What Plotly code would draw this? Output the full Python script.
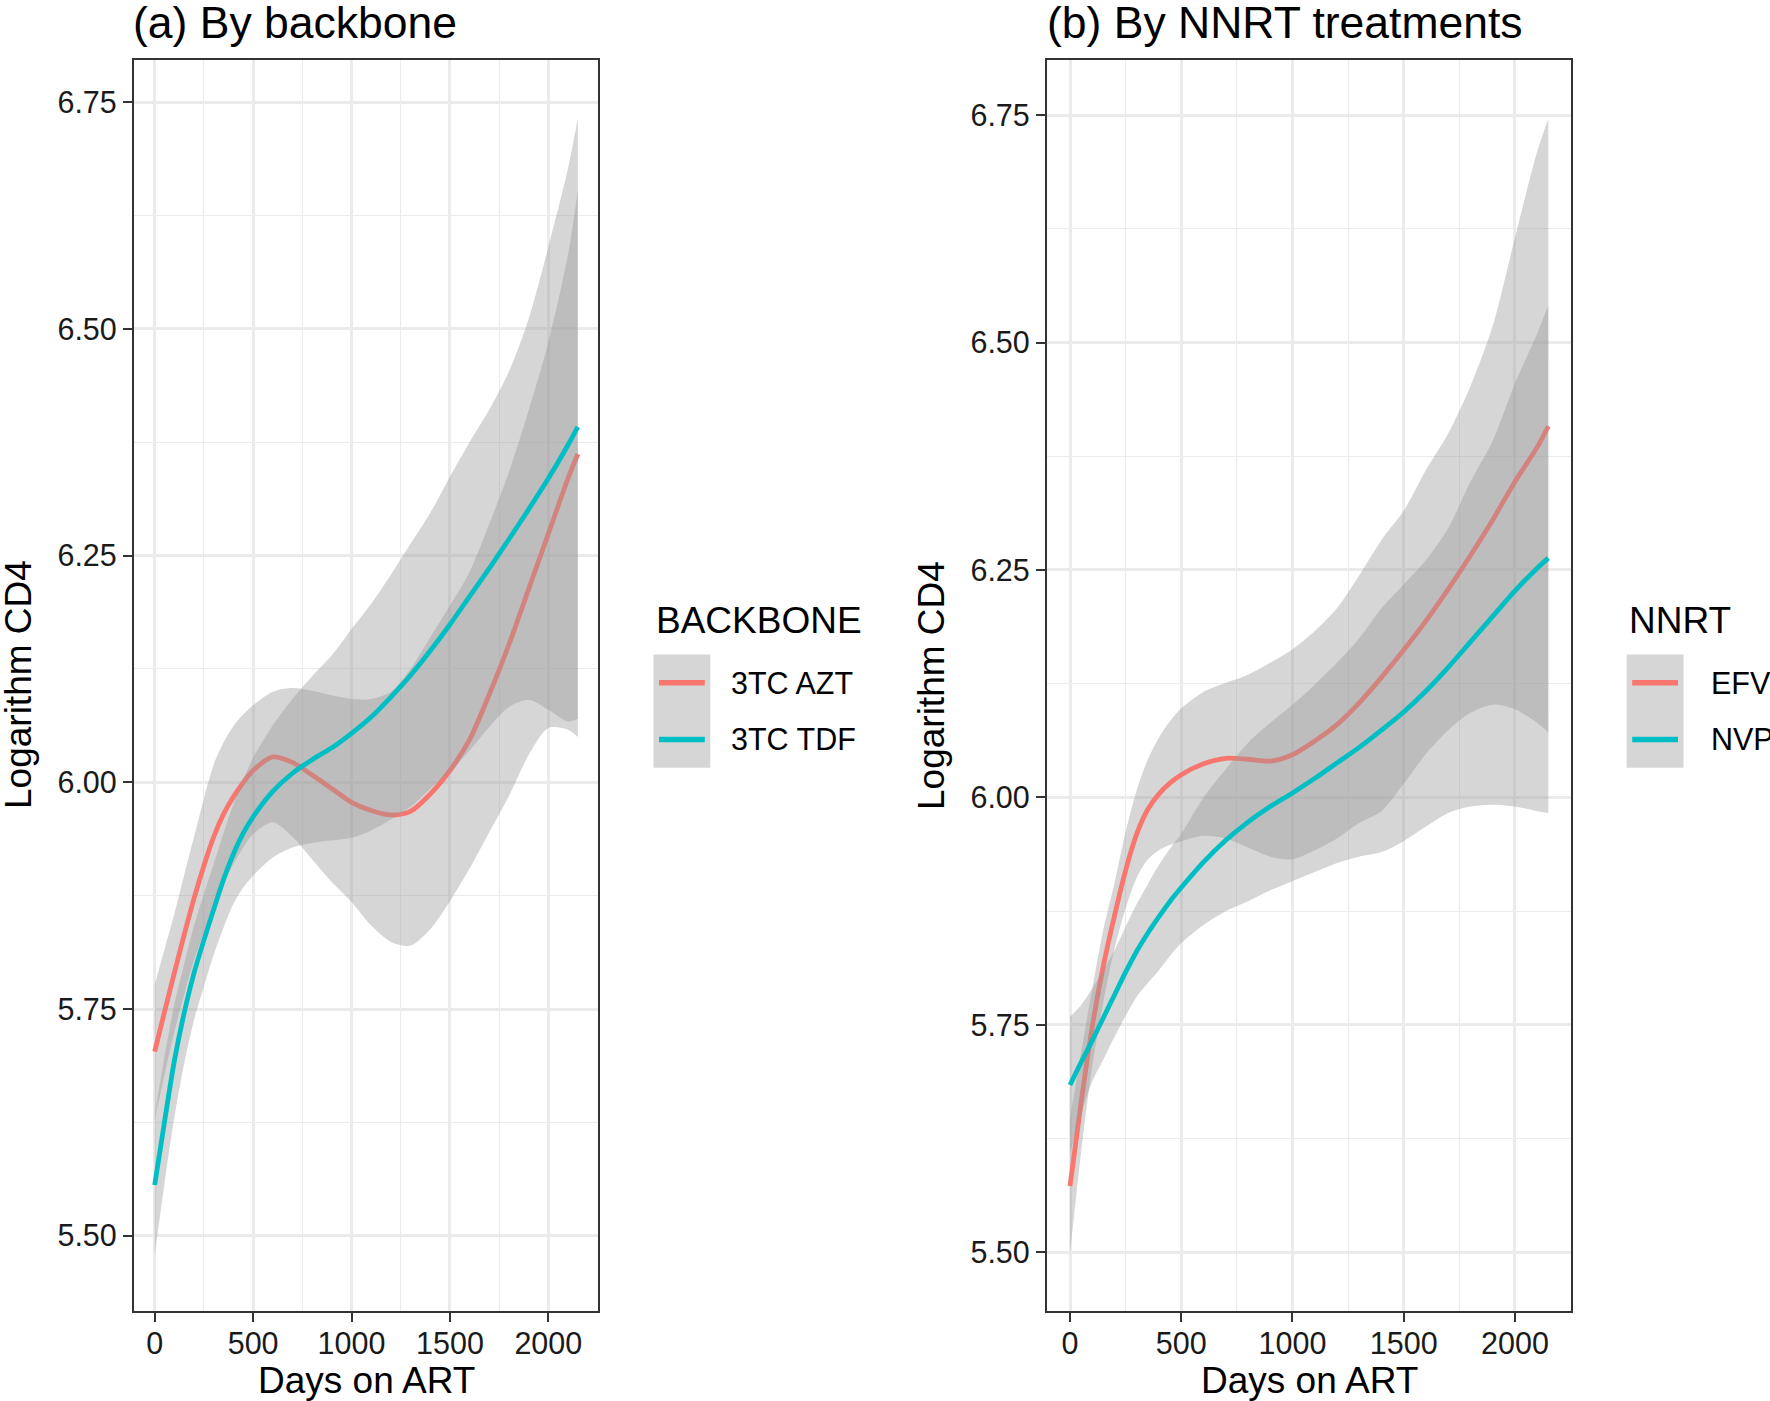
import plotly.graph_objects as go

W, H = 1770, 1401

# ---------------- data ----------------
days = [0, 50, 100, 150, 200, 250, 300, 350, 400, 450, 500, 600, 700, 800, 900, 1000,
        1100, 1200, 1300, 1400, 1500, 1600, 1700, 1800, 1900, 2000, 2100, 2150]

# Panel (a) BACKBONE
azt_fit = [5.703, 5.747, 5.790, 5.832, 5.872, 5.908, 5.940, 5.965, 5.984, 6.000, 6.013, 6.028, 6.022, 6.008, 5.993, 5.978,
           5.969, 5.964, 5.968, 5.987, 6.013, 6.047, 6.097, 6.152, 6.213, 6.274, 6.335, 6.362]
azt_upper = [5.777, 5.816, 5.855, 5.898, 5.940, 5.982, 6.020, 6.044, 6.062, 6.075, 6.085, 6.100, 6.104, 6.101, 6.096, 6.092,
             6.092, 6.100, 6.125, 6.160, 6.195, 6.232, 6.285, 6.342, 6.410, 6.485, 6.582, 6.653]
azt_lower = [5.629, 5.677, 5.725, 5.766, 5.804, 5.834, 5.865, 5.890, 5.910, 5.928, 5.943, 5.956, 5.940, 5.915, 5.890, 5.868,
             5.842, 5.824, 5.820, 5.838, 5.869, 5.905, 5.945, 5.985, 6.030, 6.060, 6.058, 6.050]
tdf_fit = [5.556, 5.626, 5.693, 5.746, 5.790, 5.826, 5.860, 5.893, 5.921, 5.944, 5.962, 5.990, 6.010, 6.025, 6.038, 6.054,
           6.072, 6.094, 6.118, 6.145, 6.174, 6.205, 6.236, 6.268, 6.301, 6.335, 6.372, 6.392]
tdf_upper = [5.633, 5.698, 5.755, 5.800, 5.842, 5.877, 5.910, 5.944, 5.976, 6.003, 6.027, 6.063, 6.092, 6.117, 6.140, 6.169,
             6.197, 6.229, 6.263, 6.297, 6.337, 6.375, 6.411, 6.453, 6.511, 6.590, 6.677, 6.732]
tdf_lower = [5.479, 5.558, 5.631, 5.690, 5.738, 5.775, 5.810, 5.840, 5.866, 5.884, 5.897, 5.917, 5.928, 5.933, 5.936, 5.939,
             5.947, 5.959, 5.973, 5.993, 6.011, 6.035, 6.061, 6.083, 6.091, 6.080, 6.067, 6.070]

# Panel (b) NNRT
efv_fit = [5.573, 5.665, 5.748, 5.815, 5.870, 5.920, 5.960, 5.987, 6.004, 6.016, 6.025, 6.037, 6.043, 6.042, 6.040, 6.047,
           6.062, 6.080, 6.104, 6.132, 6.162, 6.194, 6.229, 6.266, 6.305, 6.347, 6.385, 6.408]
efv_upper = [5.647, 5.720, 5.790, 5.855, 5.906, 5.962, 6.008, 6.042, 6.066, 6.084, 6.098, 6.116, 6.126, 6.135, 6.148, 6.163,
             6.183, 6.208, 6.244, 6.283, 6.315, 6.360, 6.400, 6.452, 6.518, 6.615, 6.710, 6.746]
efv_lower = [5.499, 5.610, 5.705, 5.775, 5.834, 5.878, 5.912, 5.932, 5.942, 5.948, 5.952, 5.958, 5.955, 5.945, 5.935, 5.932,
             5.942, 5.955, 5.972, 5.985, 6.015, 6.048, 6.074, 6.093, 6.102, 6.097, 6.082, 6.071]
nvp_fit = [5.684, 5.709, 5.733, 5.758, 5.783, 5.808, 5.831, 5.851, 5.869, 5.886, 5.901, 5.929, 5.953, 5.973, 5.990, 6.005,
           6.021, 6.038, 6.055, 6.074, 6.094, 6.117, 6.143, 6.171, 6.199, 6.227, 6.252, 6.263]
nvp_upper = [5.759, 5.772, 5.790, 5.810, 5.832, 5.858, 5.883, 5.905, 5.926, 5.944, 5.960, 6.000, 6.031, 6.060, 6.082, 6.102,
             6.124, 6.148, 6.175, 6.208, 6.234, 6.261, 6.296, 6.347, 6.392, 6.455, 6.510, 6.541]
nvp_lower = [5.609, 5.652, 5.688, 5.712, 5.737, 5.760, 5.781, 5.796, 5.810, 5.826, 5.840, 5.860, 5.875, 5.886, 5.898, 5.908,
             5.918, 5.928, 5.935, 5.940, 5.952, 5.968, 5.983, 5.990, 5.992, 5.990, 5.985, 5.983]

x_ticks = [0, 500, 1000, 1500, 2000]
y_ticks = [5.50, 5.75, 6.00, 6.25, 6.50, 6.75]
y_tick_labels = ["5.50", "5.75", "6.00", "6.25", "6.50", "6.75"]

legend_a_title = "BACKBONE"
legend_a_labels = ["3TC AZT", "3TC TDF"]
legend_b_title = "NNRT"
legend_b_labels = ["EFV", "NVP"]
titles = ["(a) By backbone", "(b) By NNRT treatments"]
x_title = "Days on ART"
y_title = "Logarithm CD4"

# ---------------- style ----------------
RED = "#F8766D"
CYAN = "#00BFC4"
RIBBON = "rgba(153,153,153,0.4)"
FONT = "Liberation Sans, Arial, sans-serif"
TICK_FS = 30.5
TITLE_FS = 37
MAIN_FS = 44.5


def px_x(p):
    return p / W


def px_y(p):
    return 1 - p / H


fig = go.Figure()


def add_group(xa, ya, fit, lo, hi, color):
    fig.add_trace(go.Scatter(x=days, y=lo, mode="lines", line=dict(width=0, shape="spline", smoothing=0.8),
                             xaxis=xa, yaxis=ya, showlegend=False, hoverinfo="skip"))
    fig.add_trace(go.Scatter(x=days, y=hi, mode="lines", line=dict(width=0, shape="spline", smoothing=0.8),
                             fill="tonexty", fillcolor=RIBBON,
                             xaxis=xa, yaxis=ya, showlegend=False, hoverinfo="skip"))
    fig.add_trace(go.Scatter(x=days, y=fit, mode="lines",
                             line=dict(color=color, width=4.8, shape="spline", smoothing=0.8),
                             xaxis=xa, yaxis=ya, showlegend=False, hoverinfo="skip"))


add_group("x", "y", azt_fit, azt_lower, azt_upper, RED)
add_group("x", "y", tdf_fit, tdf_lower, tdf_upper, CYAN)
add_group("x2", "y2", efv_fit, efv_lower, efv_upper, RED)
add_group("x2", "y2", nvp_fit, nvp_lower, nvp_upper, CYAN)

ydom = [px_y(1310.7), px_y(59.5)]
axis_common = dict(
    showline=True, mirror=True, linecolor="#333333", linewidth=2.2,
    ticks="outside", ticklen=9, tickwidth=2.2, tickcolor="#333333",
    showgrid=True, gridcolor="#EBEBEB", gridwidth=2.6, zeroline=False,
    tickfont=dict(family=FONT, size=TICK_FS, color="#1A1A1A"),
)
xminor = dict(showgrid=True, gridcolor="#EBEBEB", gridwidth=1.4, dtick=250, tick0=0, ticks="")
yminor = dict(showgrid=True, gridcolor="#EBEBEB", gridwidth=1.4, dtick=0.125, tick0=5.5, ticks="")

fig.update_layout(
    width=W, height=H, margin=dict(l=0, r=0, t=0, b=0),
    paper_bgcolor="white", plot_bgcolor="white", showlegend=False,
    xaxis=dict(domain=[px_x(134), px_x(598.3)], range=[-105.2, 2254], tickvals=x_ticks,
               anchor="y", minor=xminor, ticklabelstandoff=-4, **axis_common),
    yaxis=dict(domain=ydom, range=[5.4174, 6.797], tickvals=y_ticks, ticktext=y_tick_labels,
               anchor="x", minor=yminor, **axis_common),
    xaxis2=dict(domain=[px_x(1047), px_x(1571)], range=[-103.4, 2252], tickvals=x_ticks,
                anchor="y2", minor=xminor, ticklabelstandoff=-4, **axis_common),
    yaxis2=dict(domain=ydom, range=[5.436, 6.811], tickvals=y_ticks, ticktext=y_tick_labels,
                anchor="x2", minor=yminor, **axis_common),
)

ann = []
shapes = []


def text(x, y, s, size, xanchor="left", angle=0, color="black"):
    ann.append(dict(x=px_x(x), y=px_y(y), xref="paper", yref="paper", text=s, showarrow=False,
                    xanchor=xanchor, yanchor="middle", textangle=angle,
                    font=dict(family=FONT, size=size, color=color)))


# titles
text(131, 23, titles[0], MAIN_FS)
text(1045, 23, titles[1], MAIN_FS)
# axis titles
text(366, 1380, x_title, TITLE_FS, xanchor="center")
text(1309, 1380, x_title, TITLE_FS, xanchor="center")
text(18, 685, y_title, TITLE_FS, xanchor="center", angle=-90)
text(931, 685, y_title, TITLE_FS, xanchor="center", angle=-90)


def legend(x0, title, labels, label_off):
    text(x0, 620.5, title, TITLE_FS)
    key_w = 56.8
    tops = [654.4, 711.1]
    for i, (lab, col) in enumerate(zip(labels, [RED, CYAN])):
        t = tops[i]
        shapes.append(dict(type="rect", xref="paper", yref="paper",
                           x0=px_x(x0), x1=px_x(x0 + key_w), y0=px_y(t + 56.7), y1=px_y(t),
                           fillcolor=RIBBON, line=dict(width=0), layer="above"))
        cy = t + 28.3
        shapes.append(dict(type="line", xref="paper", yref="paper",
                           x0=px_x(x0 + 5.5), x1=px_x(x0 + 51.3), y0=px_y(cy), y1=px_y(cy),
                           line=dict(color=col, width=5.5), layer="above"))
        text(x0 + label_off, cy, lab, TICK_FS)


legend(653.5, legend_a_title, legend_a_labels, 75)
legend(1626.7, legend_b_title, legend_b_labels, 82)

fig.update_layout(annotations=ann, shapes=shapes)
fig.write_html("out.html", config={"displayModeBar": False},
               post_script="document.body.style.margin='0px';document.body.style.overflow='hidden';")
